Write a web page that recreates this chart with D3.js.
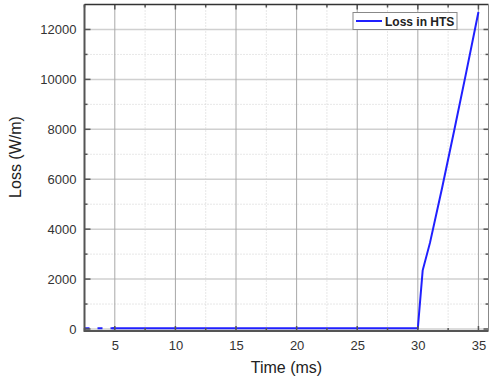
<!DOCTYPE html>
<html>
<head>
<meta charset="utf-8">
<script src="https://cdn.jsdelivr.net/npm/d3@7"></script>
<style>
  body { margin: 0; background: #fff; }
  svg { display: block; font-family: "Liberation Sans", Arial, sans-serif; }
</style>
</head>
<body>
<div id="chart"></div>
<script>
const width = 489;
const height = 385;

// data
const timeMs = [2.5, 5, 10, 15, 20, 25, 30, 30.4, 31, 32, 33, 34, 35];
const lossHTS = [30, 30, 30, 30, 30, 30, 30, 2350, 3450, 5650, 7950, 10300, 12700];
const xTicks = [5, 10, 15, 20, 25, 30, 35];
const yTicks = [0, 2000, 4000, 6000, 8000, 10000, 12000];
const seriesName = "Loss in HTS";

const pLeft = 84.5, pRight = 488.5, pTop = 4.5, pBottom = 331;

const svg = d3.select("#chart").append("svg")
  .attr("width", width)
  .attr("height", height);

const x = d3.scaleLinear().domain([2.5, 35.83]).range([pLeft, pRight]);
const y = d3.scaleLinear().domain([-80, 13000]).range([pBottom, pTop]);

const xMinor = d3.range(2.5, 36, 2.5).filter(v => !xTicks.includes(v));
const yMinor = d3.range(1000, 13000, 2000);

// grid
const grid = svg.append("g");
grid.selectAll(".ym").data(yMinor).enter().append("line")
  .attr("x1", pLeft).attr("x2", pRight)
  .attr("y1", d => y(d)).attr("y2", d => y(d))
  .attr("stroke", "#cfcfcf").attr("stroke-dasharray", "1,2");
grid.selectAll(".xm").data(xMinor).enter().append("line")
  .attr("y1", pTop).attr("y2", pBottom)
  .attr("x1", d => x(d)).attr("x2", d => x(d))
  .attr("stroke", "#cfcfcf").attr("stroke-dasharray", "1,2");
grid.selectAll(".yg").data(yTicks).enter().append("line")
  .attr("x1", pLeft).attr("x2", pRight)
  .attr("y1", d => y(d)).attr("y2", d => y(d))
  .attr("stroke", "#d0d0d0").attr("stroke-width", 1.5);
grid.selectAll(".xg").data(xTicks).enter().append("line")
  .attr("y1", pTop).attr("y2", pBottom)
  .attr("x1", d => x(d)).attr("x2", d => x(d))
  .attr("stroke", "#a8a8a8").attr("stroke-width", 1);

// series
const pts = timeMs.map((t, i) => [t, lossHTS[i]]);
const line = d3.line().x(d => x(d[0])).y(d => y(d[1]));
svg.append("path")
  .datum(pts.filter(d => d[0] <= 5))
  .attr("d", line)
  .attr("fill", "none")
  .attr("stroke", "#2020ff")
  .attr("stroke-width", 2)
  .attr("stroke-dasharray", "5,8");
svg.append("path")
  .datum(pts.filter(d => d[0] >= 5))
  .attr("d", d => line([[4.8, d[0][1]]].concat(d)))
  .attr("fill", "none")
  .attr("stroke", "#2020ff")
  .attr("stroke-width", 2);

// axes
const axisColor = "#555";
const bottomAxis = svg.append("g")
  .attr("transform", `translate(0,${pBottom})`)
  .call(d3.axisBottom(x).tickValues(xTicks).tickSize(0).tickPadding(10));
const leftAxis = svg.append("g")
  .attr("transform", `translate(${pLeft},0)`)
  .call(d3.axisLeft(y).tickValues(yTicks).tickFormat(d3.format("d")).tickSize(0).tickPadding(8));

[bottomAxis, leftAxis].forEach(g => {
  g.select(".domain").remove();
  g.selectAll("text").attr("fill", "#333").style("font-size", "13px")
    .style("font-family", "'Liberation Sans', Arial, sans-serif");
});

// inward ticks
const ticks = svg.append("g").attr("stroke", axisColor).attr("stroke-width", 1.5);
xTicks.forEach(v => {
  ticks.append("line").attr("x1", x(v)).attr("x2", x(v)).attr("y1", pBottom).attr("y2", pBottom - 5);
  ticks.append("line").attr("x1", x(v)).attr("x2", x(v)).attr("y1", pTop).attr("y2", pTop + 5);
});
xMinor.forEach(v => {
  ticks.append("line").attr("x1", x(v)).attr("x2", x(v)).attr("y1", pBottom).attr("y2", pBottom - 3);
  ticks.append("line").attr("x1", x(v)).attr("x2", x(v)).attr("y1", pTop).attr("y2", pTop + 3);
});
yTicks.forEach(v => {
  ticks.append("line").attr("y1", y(v)).attr("y2", y(v)).attr("x1", pLeft).attr("x2", pLeft + 6);
  ticks.append("line").attr("y1", y(v)).attr("y2", y(v)).attr("x1", pRight).attr("x2", pRight - 5);
});
yMinor.forEach(v => {
  ticks.append("line").attr("y1", y(v)).attr("y2", y(v)).attr("x1", pLeft).attr("x2", pLeft + 3);
  ticks.append("line").attr("y1", y(v)).attr("y2", y(v)).attr("x1", pRight).attr("x2", pRight - 3);
});

// frame
svg.append("line").attr("x1", pLeft).attr("x2", pLeft).attr("y1", pTop).attr("y2", pBottom + 1)
  .attr("stroke", axisColor).attr("stroke-width", 2);
svg.append("line").attr("x1", pLeft).attr("x2", pRight).attr("y1", pBottom).attr("y2", pBottom)
  .attr("stroke", axisColor).attr("stroke-width", 2);
svg.append("line").attr("x1", pLeft).attr("x2", pRight).attr("y1", pTop).attr("y2", pTop)
  .attr("stroke", "#333").attr("stroke-width", 1.5);
svg.append("line").attr("x1", pRight).attr("x2", pRight).attr("y1", pTop).attr("y2", pBottom)
  .attr("stroke", "#888").attr("stroke-width", 1);

// axis titles
svg.append("text")
  .attr("x", (pLeft + pRight) / 2)
  .attr("y", 373)
  .attr("text-anchor", "middle")
  .attr("fill", "#222")
  .style("font-size", "16px")
  .text("Time (ms)");
svg.append("text")
  .attr("transform", "translate(21,157) rotate(-90)")
  .attr("text-anchor", "middle")
  .attr("fill", "#222")
  .style("font-size", "16px")
  .text("Loss (W/m)");

// legend
const legend = svg.append("g").attr("transform", "translate(353,12.5)");
legend.append("rect")
  .attr("width", 104).attr("height", 17)
  .attr("fill", "#fff").attr("stroke", "#888").attr("stroke-width", 1);
legend.append("line")
  .attr("x1", 3).attr("x2", 29).attr("y1", 8.5).attr("y2", 8.5)
  .attr("stroke", "#2020ff").attr("stroke-width", 2);
legend.append("text")
  .attr("x", 32).attr("y", 13)
  .attr("fill", "#222")
  .style("font-size", "12px")
  .style("font-weight", "bold")
  .text(seriesName);
</script>
</body>
</html>
